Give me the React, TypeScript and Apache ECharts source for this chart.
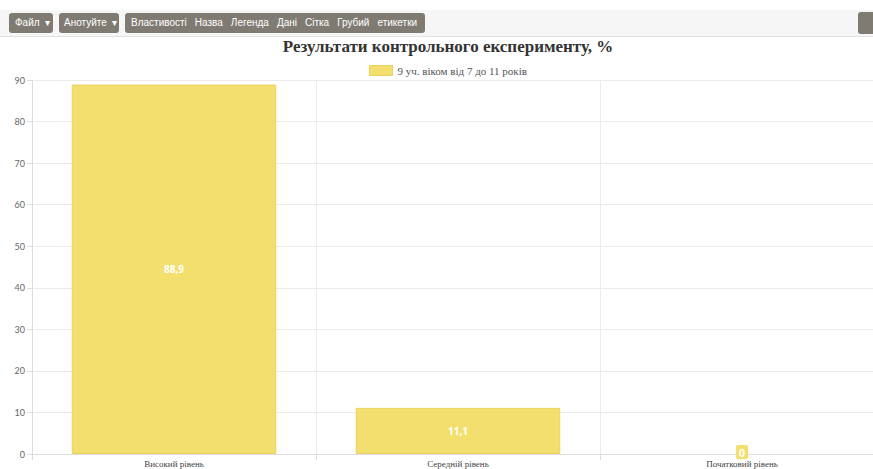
import React, { useEffect, useRef } from "react";
import * as echarts from "echarts";

const categories = ["Високий рівень", "Середній рівень", "Початковий рівень"];
const values = [88.9, 11.1, 0];
const seriesName = "9 уч. віком від 7 до 11 років";
const chartTitle = "Результати контрольного експерименту, %";
const toolbarGroup = ["Властивості", "Назва", "Легенда", "Дані", "Сітка", "Грубий", "етикетки"];

const BAR = "#f3df6e";
const BAR_BORDER = "#e9d25e";

const btnStyle: React.CSSProperties = {
  position: "absolute",
  top: 13,
  height: 20,
  background: "#7f7b73",
  borderRadius: 3,
  color: "#fff",
  fontFamily: "'Liberation Sans', Arial, sans-serif",
  fontSize: 10,
  lineHeight: "20px",
  boxSizing: "border-box",
  whiteSpace: "nowrap",
  display: "flex",
  alignItems: "center",
};

export default function App() {
  const ref = useRef<HTMLDivElement>(null);
  useEffect(() => {
    if (!ref.current) return;
    const chart = echarts.init(ref.current, null, { renderer: "svg" });
    chart.setOption({
      animation: false,
      title: {
        text: chartTitle,
        left: 448,
        textAlign: "center",
        top: 38,
        padding: 0,
        textStyle: {
          fontFamily: "'Liberation Serif', 'DejaVu Serif', serif",
          fontWeight: "bold",
          fontSize: 17,
          color: "#333",
        },
      },
      legend: {
        left: 369,
        top: 65,
        padding: 0,
        itemWidth: 23,
        itemHeight: 10,
        icon: "rect",
        textStyle: {
          fontFamily: "'Liberation Serif', serif",
          fontSize: 11,
          color: "#555",
        },
        data: [{ name: seriesName, itemStyle: { color: BAR, borderColor: BAR_BORDER, borderWidth: 1 } }],
      },
      grid: { left: 32, top: 80, width: 852, height: 374, containLabel: false },
      xAxis: {
        type: "category",
        data: categories,
        boundaryGap: true,
        axisLine: { show: true, lineStyle: { color: "#ddd" } },
        axisTick: { show: true, length: 6, alignWithLabel: false, lineStyle: { color: "#ddd" } },
        splitLine: { show: true, lineStyle: { color: "#ebebeb" } },
        axisLabel: {
          margin: 5,
          fontFamily: "'Liberation Serif', serif",
          fontSize: 9,
          color: "#444",
        },
      },
      yAxis: {
        type: "value",
        min: 0,
        max: 90,
        interval: 10,
        axisLine: { show: true, lineStyle: { color: "#ddd" } },
        axisTick: { show: true, length: 5, lineStyle: { color: "#ddd" } },
        splitLine: { show: true, lineStyle: { color: "#ebebeb" } },
        axisLabel: {
          margin: 7,
          fontFamily: "Lato, 'Open Sans', sans-serif",
          fontSize: 9,
          color: "#666",
        },
      },
      series: [
        {
          name: seriesName,
          type: "bar",
          data: values.map((v) =>
            v === 0
              ? {
                  value: v,
                  itemStyle: { color: "transparent", borderColor: "transparent", borderWidth: 0 },
                  label: { offset: [0, -2], fontSize: 11, padding: [2, 3, 1, 3] },
                }
              : v
          ),
          barWidth: "72%",
          itemStyle: { color: BAR, borderColor: BAR_BORDER, borderWidth: 1 },
          label: {
            show: true,
            position: "inside",
            formatter: (p: any) => String(p.value).replace(".", ","),
            color: "#fff",
            fontWeight: "bold",
            fontSize: 10,
            fontFamily: "'Open Sans', 'Liberation Sans', sans-serif",
            backgroundColor: BAR,
            padding: [2, 2, 1, 2],
            borderRadius: 2,
          },
        },
      ],
    });
    return () => chart.dispose();
  }, []);

  return (
    <div style={{ position: "fixed", left: 0, top: 0, width: 873, height: 469, background: "#fff", overflow: "hidden" }}>
      <div ref={ref} style={{ position: "absolute", left: 0, top: 0, width: 900, height: 469 }} />
      <div
        style={{
          position: "absolute",
          left: 0,
          top: 10,
          width: 873,
          height: 27,
          background: "#f6f6f6",
          borderBottom: "1px solid #e2e2e2",
          boxSizing: "border-box",
        }}
      >
        <div style={{ ...btnStyle, top: 3, left: 9, width: 44, paddingLeft: 6 }}>Файл&nbsp;&nbsp;▾</div>
        <div style={{ ...btnStyle, top: 3, left: 59, width: 60, paddingLeft: 5 }}>Анотуйте&nbsp;&nbsp;▾</div>
        <div style={{ ...btnStyle, top: 3, left: 125, width: 300, paddingLeft: 6, gap: 8 }}>
          {toolbarGroup.map((t) => (
            <span key={t}>{t}</span>
          ))}
        </div>
        <div style={{ ...btnStyle, top: 2, left: 858, width: 30, height: 22 }}></div>
      </div>
    </div>
  );
}
